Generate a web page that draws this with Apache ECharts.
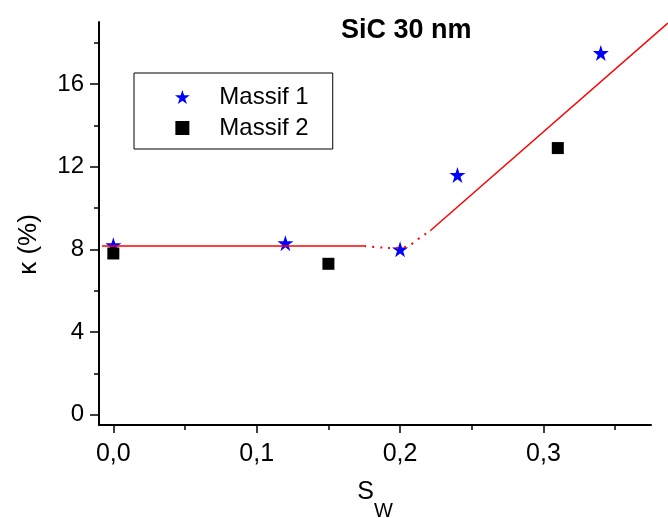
<!DOCTYPE html>
<html>
<head>
<meta charset="utf-8">
<script src="https://cdn.jsdelivr.net/npm/echarts@6/dist/echarts.min.js"></script>
<style>html,body{margin:0;padding:0;background:#fff;}#c{width:668px;height:518px;}</style>
</head>
<body>
<div id="c"></div>
<script>
const FONT = '"Liberation Sans", Arial, sans-serif';
const titleText = 'SiC 30 nm';
const massif1 = [[0, 8.2], [0.12, 8.3], [0.2, 8.0], [0.24, 11.6], [0.34, 17.5]];
const massif2 = [[0, 7.8], [0.15, 7.3], [0.31, 12.9]];
const fitFlat = [[-0.008, 8.16], [0.175, 8.16]];
const fitDotted = [[0.175, 8.16], [0.185, 8.1], [0.195, 8.06], [0.2, 8.08], [0.206, 8.18], [0.212, 8.47], [0.221, 8.9]];
const fitRise = [[0.221, 8.9], [0.3868, 18.95]];
const xMajorTicks = [0, 0.1, 0.2, 0.3];
const xMinorTicks = [0.05, 0.15, 0.25, 0.35];
const yMajorTicks = [0, 4, 8, 12, 16];
const yMinorTicks = [2, 6, 10, 14, 18];

const STAR = 'path://M50,0 L61.2,34.5 L97.6,34.5 L68.2,55.9 L79.4,90.5 L50,69.1 L20.6,90.5 L31.8,55.9 L2.4,34.5 L38.8,34.5 Z';
const SQUARE = 'path://M0,0 L10,0 L10,10 L0,10 Z';

// plot area (grid 0) and an overflow area (grid 1) sharing the same scale
const G = {left:99, right:17, top:22, bottom:93};
const X0 = -0.01, X1 = 0.375, Y0 = -0.5, Y1 = 19;
const gw = 668 - G.left - G.right, gh = 518 - G.top - G.bottom;
const pxPerX = gw / (X1 - X0), pxPerY = gh / (Y1 - Y0);
const X1b = X0 + (668 - G.left) / pxPerX;
const Y1b = Y0 + (518 - G.bottom) / pxPerY;

const chart = echarts.init(document.getElementById('c'));
const baseX = {type:'value', min:X0, max:X1, gridIndex:0, splitLine:{show:false}, position:'bottom'};
const baseY = {type:'value', min:Y0, max:Y1, gridIndex:0, splitLine:{show:false}, position:'left'};
chart.setOption({
  animation:false,
  backgroundColor:'#fff',
  title:{text:titleText, left:341, top:17, padding:0,
    textStyle:{fontFamily:FONT, fontSize:27, fontWeight:'bold', color:'#000'}},
  legend:{left:134, top:73, orient:'vertical', padding:[12,24,9,41], itemWidth:64, itemHeight:14, itemGap:7,
    borderColor:'#000', borderWidth:1, backgroundColor:'#fff',
    textStyle:{fontFamily:FONT, fontSize:24, color:'#000', lineHeight:24},
    data:['Massif 1','Massif 2']},
  grid:[
    {left:G.left, right:G.right, top:G.top, bottom:G.bottom, containLabel:false, outerBoundsMode:'none'},
    {left:G.left, right:0, top:0, bottom:G.bottom, containLabel:false, outerBoundsMode:'none'}
  ],
  xAxis:[
    Object.assign({}, baseX, {
      name:'{a|S}{b|W}', nameLocation:'middle', nameGap:55,
      nameTextStyle:{rich:{a:{fontFamily:FONT, fontSize:25, color:'#000', verticalAlign:'top', lineHeight:25},
                           b:{fontFamily:FONT, fontSize:20, color:'#000', verticalAlign:'top', lineHeight:20, padding:[21,0,0,0]}}},
      axisLine:{onZero:false, lineStyle:{color:'#000', width:2}},
      axisTick:{show:true, length:8, lineStyle:{color:'#000', width:1.5}, customValues:xMajorTicks},
      axisLabel:{show:true, margin:17, fontFamily:FONT, fontSize:25, color:'#000', customValues:xMajorTicks,
        formatter:v=>v.toFixed(1).replace('.', ',')}
    }),
    Object.assign({}, baseX, {
      axisLine:{show:false, onZero:false}, axisLabel:{show:false},
      axisTick:{show:true, length:5, lineStyle:{color:'#000', width:1.5}, customValues:xMinorTicks}
    }),
    {type:'value', gridIndex:1, min:X0, max:X1b, show:false}
  ],
  yAxis:[
    Object.assign({}, baseY, {
      name:'κ (%)', nameLocation:'middle', nameGap:57, nameRotate:90,
      nameTextStyle:{fontFamily:FONT, fontSize:26, color:'#000', padding:[0,42,0,0]},
      axisLine:{onZero:false, lineStyle:{color:'#000', width:2}},
      axisTick:{show:true, length:9, lineStyle:{color:'#000', width:1.5}, customValues:yMajorTicks},
      axisLabel:{show:true, margin:15, fontFamily:FONT, fontSize:24, color:'#000', customValues:yMajorTicks}
    }),
    Object.assign({}, baseY, {
      axisLine:{show:false, onZero:false}, axisLabel:{show:false},
      axisTick:{show:true, length:5, lineStyle:{color:'#000', width:1.5}, customValues:yMinorTicks}
    }),
    {type:'value', gridIndex:1, min:Y0, max:Y1b, show:false}
  ],
  series:[
    {name:'Massif 1', type:'scatter', data:massif1, symbol:STAR, symbolSize:16,
      itemStyle:{color:'#0000ff', opacity:1}},
    {name:'Massif 2', type:'scatter', data:massif2, symbol:SQUARE, symbolSize:12,
      itemStyle:{color:'#000', opacity:1}},
    {type:'line', data:fitFlat, showSymbol:false, symbol:'none', lineStyle:{color:'#ff0000', width:1.5}, z:5},
    {type:'line', data:fitDotted, showSymbol:false, symbol:'none', smooth:true, lineStyle:{color:'#ff0000', width:2, type:[2,6]}, z:5},
    {type:'line', data:fitRise, xAxisIndex:2, yAxisIndex:2, showSymbol:false, symbol:'none', lineStyle:{color:'#ff0000', width:1.5}, z:5}
  ]
});
</script>
</body>
</html>
